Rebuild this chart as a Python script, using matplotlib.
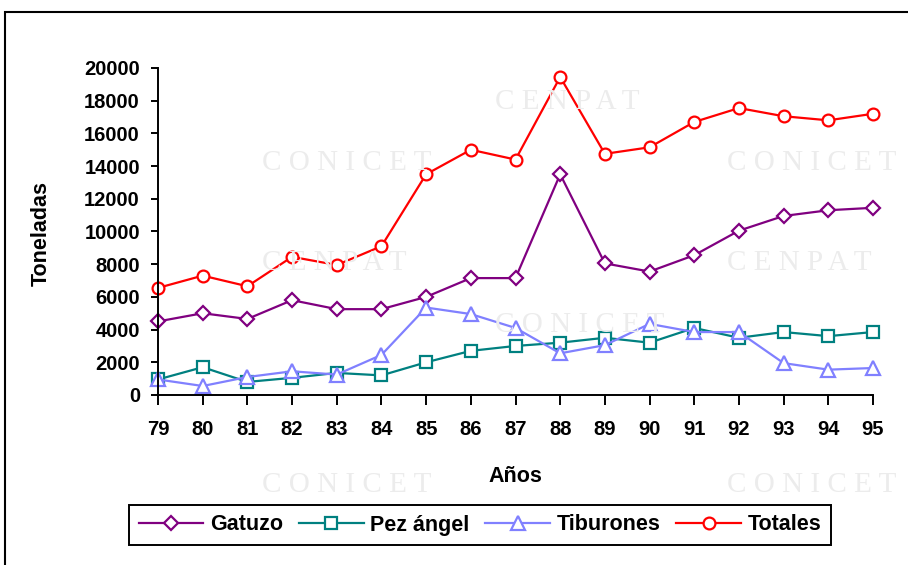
import matplotlib
matplotlib.use("Agg")
import matplotlib.pyplot as plt
from matplotlib.patches import Rectangle

# años (eje x)
anios = [79, 80, 81, 82, 83, 84, 85, 86, 87, 88, 89, 90, 91, 92, 93, 94, 95]

# toneladas por especie
gatuzo = [4500, 5000, 4650, 5800, 5250, 5250, 6000, 7150, 7150, 13500,
          8050, 7550, 8550, 10050, 10950, 11300, 11450]
pez_angel = [950, 1700, 800, 1050, 1350, 1200, 2000, 2700, 3000, 3200,
             3500, 3200, 4100, 3500, 3850, 3600, 3850]
tiburones = [950, 550, 1100, 1450, 1250, 2450, 5350, 4950, 4100, 2550,
             3050, 4350, 3850, 3850, 1950, 1550, 1650]
totales = [6550, 7300, 6650, 8450, 7950, 9100, 13500, 15000, 14400, 19450,
           14750, 15150, 16700, 17550, 17050, 16800, 17200]

plt.rcParams['font.family'] = ['Liberation Sans', 'DejaVu Sans']

fig = plt.figure(figsize=(9.08, 5.65), dpi=100)

# marcas de agua (texto muy claro)
wm = dict(family='Liberation Serif', color='#ececec', fontsize=21, zorder=0,
          ha='left', va='center')
for x, y, t in [(495, 102, "C E N P A T"),
                (262, 163, "C O N I C E T"), (727, 163, "C O N I C E T"),
                (262, 263, "C E N P A T"), (727, 263, "C E N P A T"),
                (495, 325, "C O N I C E T"),
                (262, 485, "C O N I C E T"), (727, 485, "C O N I C E T")]:
    fig.text(x / 908, 1 - y / 565, t, **wm)

# marco exterior
fig.patches.append(Rectangle((5 / 908, -0.1), 1.2, 1 - 12 / 565 + 0.1,
                             transform=fig.transFigure, fill=False,
                             edgecolor='black', lw=1.5, zorder=1))

ax = fig.add_axes([158 / 908, 1 - 395 / 565, 715 / 908, 327 / 565])
ax.patch.set_alpha(0)

estilo = dict(lw=1.6, ms=8.5, mfc='white', mew=1.6, clip_on=False)
ax.plot(anios, gatuzo, color='#800080', marker='D', label='Gatuzo',
        **{**estilo, 'ms': 7})
ax.plot(anios, pez_angel, color='#008080', marker='s', label='Pez ángel', **estilo)
ax.plot(anios, tiburones, color='#8080ff', marker='^', label='Tiburones',
        **{**estilo, 'ms': 9.5})
ax.plot(anios, totales, color='#ff0000', marker='o', label='Totales', **estilo)

ax.set_xlim(79, 95)
ax.set_ylim(0, 20000)
ax.set_xticks(anios)
ax.set_xticklabels([str(a) for a in anios])
ax.set_yticks(range(0, 20001, 2000))

for s in ['top', 'right']:
    ax.spines[s].set_visible(False)
for s in ['left', 'bottom']:
    ax.spines[s].set_linewidth(1.4)

ax.tick_params(axis='both', direction='out', width=1.4, labelsize=14.5)
ax.tick_params(axis='y', length=5, pad=8)
ax.tick_params(axis='x', length=7, pad=11)
for lab in ax.get_xticklabels() + ax.get_yticklabels():
    lab.set_fontweight('bold')

fig.text(41 / 908, 1 - 234 / 565, 'Toneladas', rotation=90, ha='center',
         va='center', fontsize=15.5, fontweight='bold')
fig.text(515 / 908, 1 - 476 / 565, 'Años', ha='center', va='center',
         fontsize=15.5, fontweight='bold')

leg = fig.legend(loc='center', bbox_to_anchor=(480 / 908, 1 - 525 / 565),
                 ncol=4, frameon=True, fancybox=False, edgecolor='black',
                 framealpha=1, handlelength=3.0, handletextpad=0.3,
                 columnspacing=0.75, borderpad=0.45, borderaxespad=0,
                 prop={'weight': 'bold', 'size': 15.5})
leg.get_frame().set_linewidth(1.4)

fig.savefig('out.png', dpi=100)
